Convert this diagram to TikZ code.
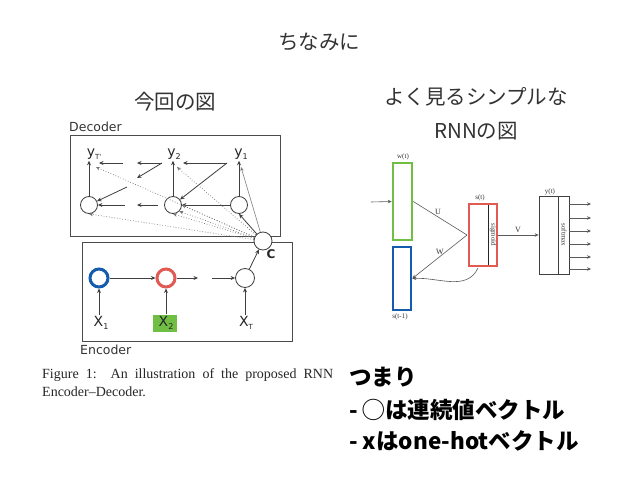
\documentclass[tikz,border=0pt]{standalone}
\usepackage{fontspec}
\setmainfont{Liberation Serif}
\newfontfamily\jp{Noto Sans CJK JP}
\newfontfamily\figsans{DejaVu Sans}
\usetikzlibrary{arrows.meta}
\definecolor{cblue}{RGB}{22,92,172}
\definecolor{cred}{RGB}{226,90,84}
\definecolor{cgreen}{RGB}{112,190,68}
\definecolor{lgray}{RGB}{90,90,90}
\tikzset{
  jptext/.style={font=\jp\fontsize{20.5}{24}\selectfont, text=black!80, inner sep=0pt},
  jpbold/.style={font=\jp\bfseries\fontsize{22.5}{26}\selectfont, text=black, inner sep=0pt, anchor=west},
  figlabel/.style={font=\figsans\fontsize{12.5}{14}\selectfont, text=black!80, inner sep=0pt},
  ylab/.style={font=\figsans\fontsize{14}{16}\selectfont, text=black!85, inner sep=1pt},
  circ/.style={draw=black!75, circle, minimum size=17pt, inner sep=0pt, line width=0.8pt, fill=white},
  ecirc/.style={draw=#1, circle, minimum size=18pt, inner sep=0pt, line width=3pt, fill=white},
  arr/.style={-{Stealth[length=4.5pt,width=4pt]}, draw=black!75, line width=0.8pt},
  dotarr/.style={-{Stealth[length=4pt,width=3.5pt]}, draw=black!55, line width=0.7pt, dotted},
  box/.style={draw=black!70, line width=0.7pt},
  rbox/.style={draw=#1, line width=2.6pt, inner sep=0pt},
  rlab/.style={font=\fontsize{7}{8}\selectfont, inner sep=0pt, text=black!80},
  rarr/.style={-{Stealth[length=4pt,width=3.5pt]}, draw=lgray, line width=0.6pt},
  rline/.style={draw=lgray, line width=0.6pt},
  captext/.style={anchor=west, inner sep=0pt, font=\fontsize{14}{16}\selectfont, text=black!85},
}
\begin{document}
\begin{tikzpicture}[x=1pt,y=-1pt]
\useasboundingbox (0,0) rectangle (638,479);
\fill[white] (0,0) rectangle (638,479);

% headings
\node[jptext] (title) at (319,42) {ちなみに};
\node[jptext] (left) at (175,102) {今回の図};
\node[jptext] (right1) at (476,97) {よく見るシンプルな};
\node[jptext] (right2) at (476,131) {RNNの図};

% ---------- Decoder ----------
\node[figlabel, anchor=west] (declab) at (69,127) {Decoder};
\draw[box] (70,135) rectangle (280,236);
\node[figlabel, anchor=west] (enclab) at (80,350) {Encoder};
\draw[box] (82,242) rectangle (292,341);

\node[circ] (d3) at (89,205) {};
\node[circ] (d2) at (173,205) {};
\node[circ] (d1) at (239,205) {};
\node[ylab] (yT) at (94,154) {y\raisebox{-0.45ex}{\fontsize{7}{8}\selectfont T'}};
\node[ylab] (y2) at (174,154) {y\raisebox{-0.45ex}{\fontsize{8}{8}\selectfont 2}};
\node[ylab] (y1) at (241,154) {y\raisebox{-0.45ex}{\fontsize{8}{8}\selectfont 1}};

\node[circ, minimum size=18pt] (C) at (263,241) {};
\node[font=\figsans\bfseries\fontsize{12}{14}\selectfont, text=black!85, inner sep=0pt] (Clab) at (271,254) {C};

% vertical arrows
\draw[arr] (d3) -- (d3 |- yT.south);
\draw[arr] (d2) -- (d2 |- y2.south);
\draw[arr] (d1) -- (d1 |- y1.south);

% top row
\coordinate (t0) at (227,163);
\coordinate (t1) at (183,163);
\coordinate (t2) at (162,163);
\coordinate (t3) at (137,163);
\coordinate (t4) at (123,163);
\coordinate (t5) at (99,163);
\draw[arr] (t0) -- (t1);
\draw[arr] (t2) -- (t3);
\draw[arr] (t4) -- (t5);
% circle row
\coordinate (c2) at (158,205);
\coordinate (c3) at (137,205);
\coordinate (c4) at (125,205);
\draw[arr] (d1) -- (d2);
\draw[arr] (c2) -- (c3);
\draw[arr] (c4) -- (d3);
% diagonals
\coordinate (g1) at (137,178);
\coordinate (g2) at (127,187);
\draw[arr] (t0) -- (d2);
\draw[arr] (t2) -- (g1);
\draw[arr] (g2) -- (d3);

% lines from C
\coordinate (pT) at (96,167);
\coordinate (p2) at (177,167);
\coordinate (p1) at (241,167);
\draw[dotarr] (C) -- (pT);
\draw[dotarr] (C) -- (p2);
\draw[-{Stealth[length=4pt,width=3.5pt]}, draw=black!50, line width=0.6pt] (C) -- (p1);
\draw[dotarr] (C) -- (d3.south);
\draw[dotarr] (C) -- (d2.south);
\draw[dotarr] (C) -- (d2.east);
\draw[dotarr] (C) -- (d2.south east);
\draw[arr] (C) -- (d1.south);

% ---------- Encoder ----------
\node[ecirc=cblue] (e1) at (99,278) {};
\node[ecirc=cred] (e2) at (166,278) {};
\node[circ, minimum size=19pt] (e3) at (245,278) {};
\node[ylab] (x1) at (101,323) {X\raisebox{-0.45ex}{\fontsize{8}{8}\selectfont 1}};
\node[fill=cgreen, minimum width=24pt, minimum height=17pt, inner sep=0pt] (x2box) at (165,323) {};
\node[ylab] (x2) at (166,323) {X\raisebox{-0.45ex}{\fontsize{8}{8}\selectfont 2}};
\node[ylab] (xT) at (246,323) {X\raisebox{-0.45ex}{\fontsize{7}{8}\selectfont T}};

\draw[arr] (x1.north -| e1) -- (e1);
\draw[arr] (x2box.north -| e2) -- (e2);
\draw[arr] (xT.north -| e3) -- (e3);
\draw[arr] (e1) -- (e2);
\coordinate (h1) at (198,278);
\coordinate (h2) at (212,278);
\draw[arr] (e2) -- (h1);
\draw[arr] (h2) -- (e3);
\draw[arr] (e3) -- (C);

% caption
\node[captext] (cap1) at (42,375) {\makebox[291pt][s]{Figure 1:\ \ An illustration of the proposed RNN}};
\node[captext] (cap2) at (42,392) {Encoder--Decoder.};

% ---------- Simple RNN ----------
\node[rbox=cgreen, minimum width=19pt, minimum height=77pt] (w) at (402.5,201.5) {};
\node[rbox=cblue, minimum width=18pt, minimum height=63pt] (b) at (402,278.5) {};
\node[rbox=cred, minimum width=28pt, minimum height=62pt] (r) at (483,235) {};
\node[box, draw=black!75, minimum width=30pt, minimum height=78pt, inner sep=0pt] (o) at (554,235) {};
\draw[draw=black!85, line width=1pt] (488,205) -- (488,265);
\draw[draw=black!75, line width=0.7pt] (558,196) -- (558,274);
\node[rlab, rotate=-90] (sig) at (493,235) {sigmoid};
\node[rlab, rotate=-90] (soft) at (564,235) {softmax};

\node[rlab] (wl) at (403,157) {w(t)};
\node[rlab] (bl) at (400,317) {s(t-1)};
\node[rlab] (sl) at (480,198) {s(t)};
\node[rlab] (yl) at (550,192) {y(t)};

\coordinate (in) at (371,202);
\draw[rarr] (in) -- (w.west);
\coordinate (rw) at (467,235);
\draw[rline] (w.east) -- (rw);
\draw[rarr] (rw) -- (b.east);
\coordinate (rs) at (478,268);
\draw[rarr] (rs) to[out=-115, in=3] (b.east);
\draw[rarr] (r.east) -- (o.west);
\node[rlab, font=\fontsize{8}{9}\selectfont] (U) at (438,212) {U};
\node[rlab, font=\fontsize{8}{9}\selectfont] (W) at (440,252) {W};
\node[rlab, font=\fontsize{8}{9}\selectfont] (V) at (518,230) {V};

\foreach \yy [count=\i] in {204,218,231,244,257,269} {
  \coordinate (os\i) at (569,\yy);
  \coordinate (oe\i) at (591,\yy);
  \draw[rarr] (os\i) -- (oe\i);
}

% ---------- bottom text ----------
\node[jpbold] (n1) at (349,377) {つまり};
\node[jpbold] (n2) at (349,410) {- ◯は連続値ベクトル};
\node[jpbold] (n3) at (349,441) {- xはone-hotベクトル};
\end{tikzpicture}
\end{document}
